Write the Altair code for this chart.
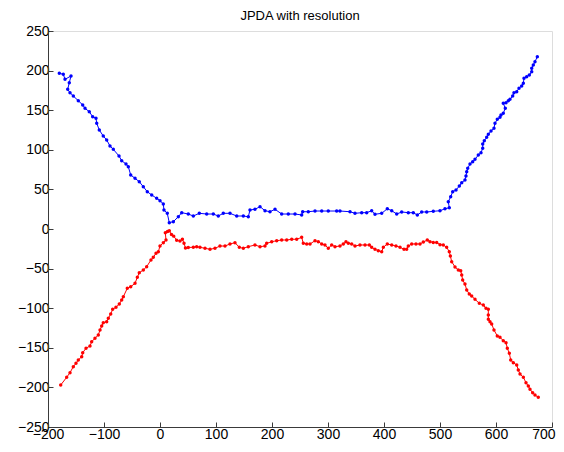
import altair as alt
import pandas as pd

title_text = "JPDA with resolution"
x_ticks = [-200, -100, 0, 100, 200, 300, 400, 500, 600, 700]
y_ticks = [-250, -200, -150, -100, -50, 0, 50, 100, 150, 200, 250]

blue_x = [-179.8, -172.7, -169.6, -158.9, -162.0, -164.8, -160.7, -154.8, -145.9, -138.0,
          -133.9, -126.3, -120.2, -114.3, -113.0, -108.4, -101.3, -95.2, -89.3, -83.4,
          -73.2, -68.4, -60.7, -56.6, -52.3, -44.6, -37.0, -29.8, -22.7, -14.8,
          -5.9, 0.0, 5.9, 7.1, 13.0, 16.6, 23.8, 32.7, 38.8, 50.5,
          59.5, 70.2, 83.4, 95.2, 104.1, 113.0, 125.0, 137.0, 148.8, 157.7,
          160.7, 169.6, 178.6, 187.5, 196.4, 205.4, 217.3, 229.1, 241.1, 253.0,
          254.8, 264.8, 276.8, 288.8, 300.5, 315.5, 321.4, 339.3, 348.2, 360.2,
          369.1, 378.0, 383.9, 395.9, 405.9, 413.8, 422.7, 431.6, 443.4, 452.3,
          459.5, 467.3, 476.3, 488.0, 500.0, 508.9, 516.6, 514.8, 519.1, 522.7,
          528.6, 534.5, 538.8, 544.6, 546.4, 547.7, 549.5, 553.6, 558.4, 562.5,
          568.4, 573.2, 576.3, 576.3, 579.1, 583.4, 586.3, 591.1, 596.4, 598.2,
          602.3, 607.1, 608.9, 613.0, 616.6, 613.0, 617.9, 622.0, 625.0, 629.8,
          632.1, 637.0, 641.1, 645.9, 648.8, 650.0, 654.8, 659.5, 663.8, 663.8,
          666.6, 669.6, 673.8]
blue_y = [196.6, 195.3, 189.0, 193.2, 184.7, 176.4, 172.1, 167.9, 162.0, 156.6,
          152.4, 148.1, 141.8, 139.8, 133.5, 125.0, 117.4, 112.4, 104.8, 100.6,
          92.2, 86.2, 82.1, 78.7, 68.2, 64.0, 59.7, 53.4, 47.1, 42.9,
          38.8, 35.7, 31.6, 24.0, 19.8, 8.0, 9.2, 15.5, 20.6, 18.9,
          16.4, 19.8, 18.9, 18.9, 16.4, 19.8, 19.8, 16.4, 16.4, 15.5,
          24.0, 24.9, 28.2, 23.1, 21.8, 24.9, 18.9, 18.9, 18.9, 17.7,
          21.8, 21.8, 22.7, 22.7, 22.7, 22.7, 22.7, 21.8, 19.8, 20.6,
          20.6, 23.1, 18.6, 19.8, 25.6, 23.1, 18.9, 21.5, 20.6, 20.6,
          17.7, 21.5, 21.5, 22.3, 23.1, 25.5, 26.9, 34.5, 40.8, 47.1,
          49.2, 54.3, 58.5, 61.9, 66.9, 72.3, 76.6, 82.1, 85.0, 88.0,
          93.4, 96.3, 101.9, 107.3, 111.5, 115.8, 119.6, 123.7, 127.1, 133.5,
          138.5, 141.0, 143.9, 146.1, 152.4, 158.7, 159.5, 162.0, 163.8, 167.9,
          172.1, 173.4, 177.7, 180.6, 184.0, 190.3, 192.3, 194.4, 198.6, 202.9,
          207.1, 211.2, 217.6]

red_x = [-177.3, -166.6, -160.7, -154.8, -150.0, -145.9, -139.8, -138.0, -132.1, -125.0,
         -122.0, -116.1, -110.2, -107.1, -104.1, -101.3, -95.2, -92.3, -88.0, -84.5,
         -78.6, -72.7, -68.4, -65.5, -58.4, -52.3, -44.6, -40.5, -37.0, -29.8,
         -23.8, -16.1, -12.0, -7.1, -3.0, 0.0, 5.9, 10.7, 9.5, 13.5,
         16.6, 20.5, 24.5, 29.8, 35.7, 40.0, 42.9, 45.5, 50.5, 59.5,
         65.5, 71.4, 80.4, 89.3, 98.2, 107.1, 116.1, 125.0, 133.9, 141.6,
         148.8, 157.7, 169.6, 178.6, 187.5, 190.5, 199.5, 208.4, 217.3, 226.3,
         235.2, 244.1, 253.0, 255.9, 262.0, 267.9, 276.8, 282.7, 288.8, 294.6,
         300.5, 306.6, 312.5, 321.4, 327.3, 332.1, 336.3, 342.3, 348.2, 357.1,
         366.1, 373.8, 378.0, 383.9, 389.8, 395.9, 398.8, 405.9, 413.8, 421.4,
         428.6, 435.7, 440.5, 443.4, 449.5, 457.1, 464.3, 470.2, 477.3, 482.1,
         488.0, 494.1, 500.0, 505.9, 511.9, 516.6, 518.5, 520.9, 526.8, 532.7,
         537.0, 538.8, 540.5, 544.6, 547.7, 552.3, 556.6, 562.5, 570.2, 577.3,
         582.1, 586.3, 586.3, 586.3, 589.3, 592.3, 596.4, 602.3, 607.1, 613.0,
         617.9, 620.2, 623.8, 626.3, 630.9, 637.0, 639.8, 642.9, 648.8, 653.6,
         657.7, 660.7, 665.5, 669.6, 675.5]
red_y = [-197.0, -187.2, -181.4, -173.8, -169.6, -165.4, -161.2, -156.2, -150.6, -147.7,
         -142.3, -138.0, -133.8, -127.5, -122.5, -118.3, -117.0, -112.7, -107.3, -101.4,
         -98.8, -94.7, -89.6, -85.5, -74.9, -72.9, -68.6, -61.0, -55.2, -51.8,
         -47.6, -39.1, -35.7, -30.7, -28.7, -21.5, -17.3, -13.9, -4.7, -3.2,
         -2.1, -7.0, -9.0, -14.3, -15.2, -13.0, -18.0, -24.0, -23.3, -23.1,
         -22.3, -23.1, -24.4, -25.6, -24.4, -21.5, -21.5, -18.9, -17.3, -23.1,
         -24.4, -22.3, -20.2, -22.3, -21.5, -18.1, -16.0, -14.8, -13.9, -13.9,
         -13.0, -13.0, -10.5, -18.1, -18.9, -18.9, -14.8, -16.0, -18.9, -20.2,
         -24.4, -20.2, -22.3, -21.5, -18.9, -16.0, -18.1, -18.9, -21.5, -20.2,
         -20.2, -20.2, -23.1, -25.6, -27.4, -28.7, -23.1, -18.9, -20.2, -21.5,
         -23.1, -25.6, -25.6, -21.5, -18.9, -18.9, -18.9, -16.5, -13.9, -16.0,
         -17.0, -17.0, -19.8, -20.2, -23.1, -28.7, -34.1, -41.3, -47.9, -51.8,
         -52.6, -58.1, -64.4, -69.4, -77.0, -82.1, -84.6, -88.8, -93.8, -96.0,
         -100.1, -101.4, -108.6, -114.0, -117.0, -119.9, -127.5, -135.1, -136.7, -141.0,
         -143.6, -150.6, -156.9, -165.4, -168.8, -171.7, -178.0, -183.1, -187.2, -194.1,
         -198.2, -202.4, -206.7, -209.6, -212.5]

W, H = 504, 396
FONT = "Liberation Sans"

rows = []
for name, xs, ys in (("blue", blue_x, blue_y), ("red", red_x, red_y)):
    for i, (a, b) in enumerate(zip(xs, ys)):
        rows.append({"track": name, "i": i, "x": a, "y": b})
df = pd.DataFrame(rows)

xscale = alt.Scale(domain=[x_ticks[0], x_ticks[-1]], nice=False, zero=False)
yscale = alt.Scale(domain=[y_ticks[0], y_ticks[-1]], nice=False, zero=False)

axis_common = dict(grid=False, ticks=True, tickSize=alt.ExprRef(expr="-5"),
                   tickColor="#3a3a3a", tickWidth=1,
                   domainColor="#3a3a3a", domainWidth=1,
                   labelFont=FONT, labelFontSize=14, labelColor="#000000",
                   labelOverlap=False, labelFlush=False)

x_last = x_ticks[-1]

chart = alt.Chart(df).mark_line(
    strokeWidth=1, point=alt.OverlayMarkDef(filled=True, size=12, opacity=1)
).encode(
    x=alt.X("x:Q", scale=xscale, title=None,
            axis=alt.Axis(values=x_ticks, labelPadding=5,
                          labelAlign=alt.ExprRef(expr=f"datum.value == {x_last} ? 'right' : 'center'"),
                          labelOffset=alt.ExprRef(expr=f"datum.value == {x_last} ? 3 : 0"),
                          **axis_common)),
    y=alt.Y("y:Q", scale=yscale, title=None,
            axis=alt.Axis(values=y_ticks, labelPadding=4, **axis_common)),
    color=alt.Color("track:N", scale=alt.Scale(domain=["blue", "red"], range=["#0000ff", "#ff0000"]),
                    legend=None),
    order="i:Q",
    detail="track:N",
).properties(
    width=W, height=H,
    title=alt.TitleParams(title_text, font=FONT, fontSize=13, fontWeight="normal",
                          color="#000000", offset=9, dy=8, anchor="middle"),
    autosize=alt.AutoSizeParams(type="none"),
    padding={"left": 40, "top": 23, "right": 4, "bottom": 17},
).configure_view(stroke=None).configure(background="#ffffff")

chart.save("out.html", embed_options={"renderer": "svg", "actions": False})
